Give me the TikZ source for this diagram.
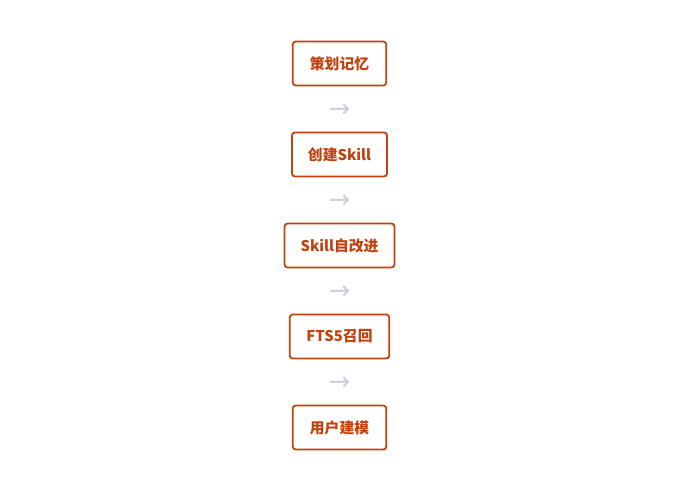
\documentclass[tikz,border=0pt]{standalone}
\usepackage{fontspec}
\usetikzlibrary{calc}
\newfontfamily\cjk{Noto Sans CJK SC}
\newfontfamily\symfont{DejaVu Sans}
\definecolor{boxc}{HTML}{C2410C}
\definecolor{arrc}{HTML}{CDD0DA}
\begin{document}
\begin{tikzpicture}[x=1pt,y=-1pt,
  stepbox/.style={draw=boxc, line width=1.8pt, rounded corners=3pt, text=boxc,
    font=\cjk\bfseries\fontsize{14.8}{16}\selectfont, inner xsep=16pt,
    minimum height=44pt, fill=white},
  arrowtxt/.style={text=arrc, font=\symfont\fontsize{26}{28}\selectfont, inner sep=0pt}]
\useasboundingbox (0,0) rectangle (680,491);
\node[stepbox, minimum width=93.5pt] (a) at (339.5,63.5) {策划记忆};
\node[stepbox, minimum width=93.5pt] (b) at (339.5,154.5) {创建Skill};
\node[stepbox, minimum width=107.5pt] (c) at (339.5,245.5) {Skill自改进};
\node[stepbox, minimum width=99.5pt] (d) at (339.5,336.5) {FTS5召回};
\node[stepbox, minimum width=93.5pt] (e) at (339.5,427.5) {用户建模};
\node[arrowtxt] (ab) at ($(a)!0.5!(b)+(0,1.5)$) {→};
\node[arrowtxt] (bc) at ($(b)!0.5!(c)+(0,1.5)$) {→};
\node[arrowtxt] (cd) at ($(c)!0.5!(d)+(0,1.5)$) {→};
\node[arrowtxt] (de) at ($(d)!0.5!(e)+(0,1.5)$) {→};
\end{tikzpicture}
\end{document}
